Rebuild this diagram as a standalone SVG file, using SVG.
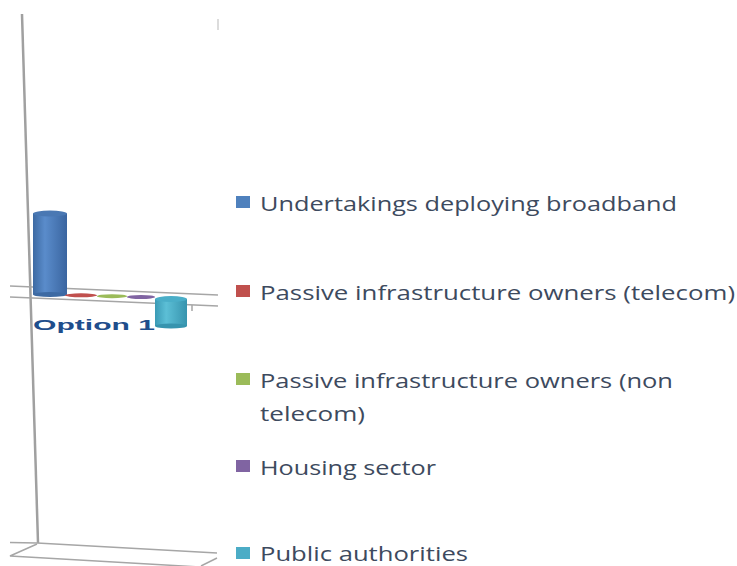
<svg xmlns="http://www.w3.org/2000/svg" width="737" height="566" viewBox="0 0 737 566">
<style>
.ax{stroke:#a6a6a6;stroke-width:1.5;fill:none}
.lg{font-family:"Open Sans","Noto Sans","Liberation Sans",sans-serif;font-size:20.5px;fill:#3d4a5e}
.opt{font-family:"Liberation Sans",Arial,sans-serif;font-weight:bold;font-size:15.5px;fill:#1f4e8c}
</style>
<defs>
<linearGradient id="gb" x1="0" x2="1" y1="0" y2="0">
<stop offset="0" stop-color="#3d6aa3"/><stop offset="0.35" stop-color="#5a8ccb"/><stop offset="1" stop-color="#3a65a0"/>
</linearGradient>
<linearGradient id="gt" x1="0" x2="1" y1="0" y2="0">
<stop offset="0" stop-color="#3a9ab5"/><stop offset="0.35" stop-color="#5cbfd6"/><stop offset="1" stop-color="#3794ae"/>
</linearGradient>
</defs>
<rect width="737" height="566" fill="#ffffff"/>
<g id="axes">
<line x1="22" y1="14" x2="38" y2="543" stroke="#a0a0a0" stroke-width="2.5"/>
<line x1="218" y1="19" x2="218" y2="30" stroke="#d0d0d0" stroke-width="1.5"/>
<line class="ax" x1="10" y1="286" x2="218" y2="295"/>
<line class="ax" x1="10" y1="297" x2="218" y2="306"/>
<line class="ax" x1="192" y1="305" x2="192" y2="311"/>
<polyline class="ax" points="10,542.5 37,543 217,553"/>
<polyline class="ax" points="37,544 10,556 200,567"/>
<line class="ax" x1="217" y1="558" x2="201" y2="566"/>
</g>
<g id="bars">
<g id="bar-undertakings">
<rect x="33" y="213.5" width="34" height="81" fill="url(#gb)"/>
<ellipse cx="50" cy="294.5" rx="17" ry="2.5" fill="#3d6aa3"/>
<ellipse cx="50" cy="213.5" rx="17" ry="3" fill="#4a78b3"/>
</g>
<ellipse id="bar-telecom" cx="81" cy="295.3" rx="16" ry="2" fill="#c0504d"/>
<ellipse id="bar-nontelecom" cx="112" cy="296.2" rx="15" ry="2" fill="#9bbb59"/>
<ellipse id="bar-housing" cx="141" cy="297" rx="14" ry="2" fill="#8064a2"/>
<text class="opt" x="33" y="330" textLength="122" lengthAdjust="spacingAndGlyphs">Option 1</text>
<g id="bar-public">
<rect x="155" y="299" width="32" height="27" fill="url(#gt)"/>
<ellipse cx="171" cy="326" rx="16" ry="2.5" fill="#3794ae"/>
<ellipse cx="171" cy="299" rx="16" ry="3" fill="#4aaec8"/>
</g>
</g>
<g id="legend">
<g id="lg1"><rect x="236" y="196" width="14" height="12" fill="#4f81bd"/><text class="lg" x="260" y="211" textLength="417" lengthAdjust="spacingAndGlyphs">Undertakings deploying broadband</text></g>
<g id="lg2"><rect x="236" y="285" width="14" height="12" fill="#c0504d"/><text class="lg" x="260" y="300" textLength="475" lengthAdjust="spacingAndGlyphs">Passive infrastructure owners (telecom)</text></g>
<g id="lg3"><rect x="236" y="373" width="14" height="12" fill="#9bbb59"/><text class="lg" x="260" y="388" textLength="413" lengthAdjust="spacingAndGlyphs">Passive infrastructure owners (non</text><text class="lg" x="260" y="421" textLength="105" lengthAdjust="spacingAndGlyphs">telecom)</text></g>
<g id="lg4"><rect x="236" y="460" width="14" height="12" fill="#8064a2"/><text class="lg" x="260" y="475" textLength="176" lengthAdjust="spacingAndGlyphs">Housing sector</text></g>
<g id="lg5"><rect x="236" y="547" width="14" height="12" fill="#4bacc6"/><text class="lg" x="260" y="561" textLength="208" lengthAdjust="spacingAndGlyphs">Public authorities</text></g>
</g>
</svg>
